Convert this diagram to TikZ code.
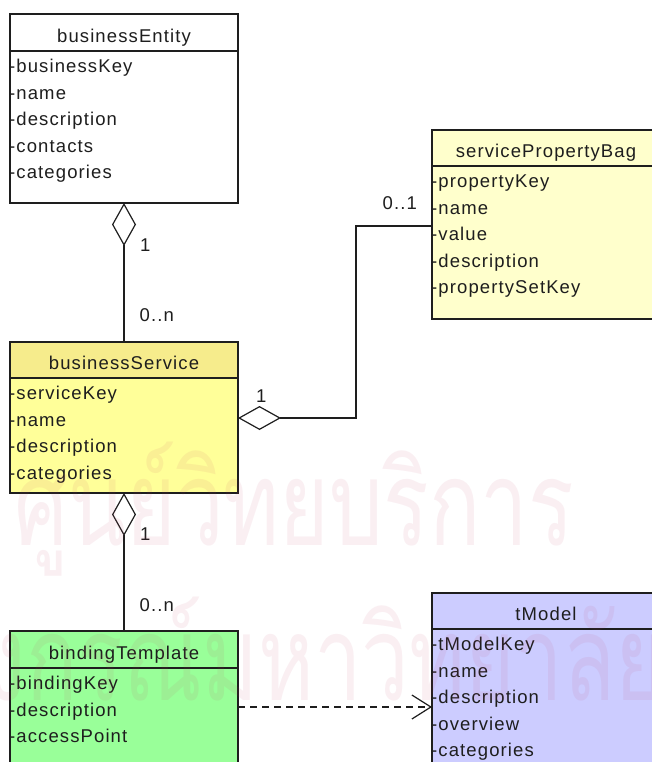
\documentclass[tikz,border=0pt]{standalone}
\usepackage{fontspec}
\usetikzlibrary{arrows.meta}
\newfontfamily\umlfamily{Liberation Sans}[LetterSpace=6]
\newfontfamily\thaifont[Script=Thai,FakeStretch=0.72]{Loma}
\newcommand{\umlfont}{\umlfamily\fontsize{18.5}{20}\selectfont}
\definecolor{linec}{HTML}{1E1E1E}
\definecolor{bsTitle}{HTML}{F6EC8C}
\definecolor{bsBody}{HTML}{FFFF99}
\definecolor{spFill}{HTML}{FFFFCC}
\definecolor{btFill}{HTML}{99FF99}
\definecolor{tmFill}{HTML}{CCCCFF}
\definecolor{wmcol}{HTML}{C03860}
\tikzset{
  clsbox/.style={draw=linec, line width=1.2pt, inner sep=0pt, outer sep=0pt,
    anchor=north west, minimum width=228pt},
  ttlbox/.style={clsbox, minimum height=37pt},
  ttltext/.style={anchor=base, inner sep=0pt, font=\umlfont, text=linec},
  attr/.style={anchor=base west, inner sep=0pt, font=\umlfont, text=linec},
  mult/.style={anchor=base west, inner sep=0pt, font=\umlfont, text=linec},
  conn/.style={draw=linec, line width=1.2pt},
  agg/.style={conn, {Diamond[fill=white, length=43pt, width=24pt]}-},
  dep/.style={conn, dash pattern=on 7pt off 5pt, -{Straight Barb[length=19pt, width=24pt]}},
  wm/.style={inner sep=0pt, font=\thaifont\fontsize{118}{118}\selectfont, text=wmcol, text opacity=0.08},
}
\begin{document}
\begin{tikzpicture}[x=1pt, y=-1pt]
\useasboundingbox (0,0) rectangle (652,762);
\fill[white] (0,0) rectangle (652,762);

% businessEntity
\node[ttlbox, fill=white] (beT) at (10,14) {};
\node[clsbox, fill=white, minimum height=152pt] (beB) at (beT.south west) {};
\node[ttltext] (beN) at ([yshift=8.5pt]beT.south) {businessEntity};
\foreach \t [count=\i] in {businessKey,name,description,contacts,categories}
  \node[attr] (be-\i) at ([xshift=-1pt,yshift={-21.5pt-(\i-1)*26.6pt}]beB.north west) {-\t};

% businessService
\node[ttlbox, fill=bsTitle, minimum height=36pt] (bsT) at (10,342) {};
\node[clsbox, fill=bsBody, minimum height=115pt] (bsB) at (bsT.south west) {};
\node[ttltext] (bsN) at ([yshift=8.5pt]bsT.south) {businessService};
\foreach \t [count=\i] in {serviceKey,name,description,categories}
  \node[attr] (bs-\i) at ([xshift=-1pt,yshift={-21.5pt-(\i-1)*26.6pt}]bsB.north west) {-\t};

% bindingTemplate
\node[ttlbox, fill=btFill] (btT) at (10,631) {};
\node[clsbox, fill=btFill, minimum height=140pt] (btB) at (btT.south west) {};
\node[ttltext] (btN) at ([yshift=8.5pt]btT.south) {bindingTemplate};
\foreach \t [count=\i] in {bindingKey,description,accessPoint}
  \node[attr] (bt-\i) at ([xshift=-1pt,yshift={-21.5pt-(\i-1)*26.6pt}]btB.north west) {-\t};

% servicePropertyBag
\node[ttlbox, fill=spFill, minimum height=36pt] (spT) at (432,130) {};
\node[clsbox, fill=spFill, minimum height=153pt] (spB) at (spT.south west) {};
\node[ttltext] (spN) at ([yshift=8.5pt]spT.south) {servicePropertyBag};
\foreach \t [count=\i] in {propertyKey,name,value,description,propertySetKey}
  \node[attr] (sp-\i) at ([xshift=-1pt,yshift={-21.5pt-(\i-1)*26.6pt}]spB.north west) {-\t};

% tModel
\node[ttlbox, fill=tmFill, minimum height=36pt] (tmT) at (432,593) {};
\node[clsbox, fill=tmFill, minimum height=180pt] (tmB) at (tmT.south west) {};
\node[ttltext] (tmN) at ([yshift=8.5pt]tmT.south) {tModel};
\foreach \t [count=\i] in {tModelKey,name,description,overview,categories}
  \node[attr] (tm-\i) at ([xshift=-1pt,yshift={-21.5pt-(\i-1)*26.6pt}]tmB.north west) {-\t};

% connectors
\draw[agg] (beB.south) -- (bsT.north);
\draw[agg] (bsB.south) -- (btT.north);
\draw[agg] ([yshift=17.5pt]bsB.east) -- ++(118,0) |- ([yshift=16.5pt]spB.west);
\draw[dep] ([yshift=31pt]btB.east) -- ([yshift=31pt]btB.east -| tmB.west);

% multiplicities
\node[mult] (m1) at (140,251.5) {1};
\node[mult] (m2) at (139.5,321) {0..n};
\node[mult] (m3) at (140,540) {1};
\node[mult] (m4) at (139.5,611) {0..n};
\node[mult] (m5) at (256,402) {1};
\node[mult] (m6) at (382.5,209) {0..1};

% watermark
\node[wm, anchor=base west] (wm1) at (14,545) {ศูนย์วิทยบริการ};
\node[wm, anchor=base east] (wm2) at (665,700) {จุฬาลงกรณ์มหาวิทยาลัย};
\end{tikzpicture}
\end{document}
